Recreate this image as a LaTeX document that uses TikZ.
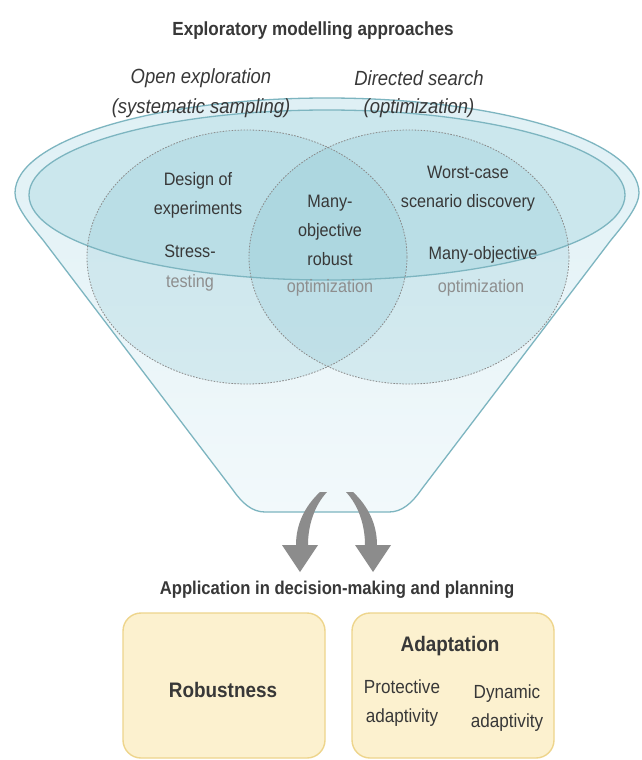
\documentclass[tikz,border=0pt]{standalone}
\usepackage{fontspec}
\setmainfont{Liberation Sans}[FakeStretch=0.9]
\definecolor{rim}{HTML}{7DB5C0}
\definecolor{funneltop}{HTML}{DFF0F5}
\definecolor{funnelbot}{HTML}{F2F9FB}
\definecolor{innerfill}{HTML}{CBE7ED}
\definecolor{circfill}{HTML}{7FC0CF}
\definecolor{circline}{HTML}{8A8A8A}
\definecolor{txt}{HTML}{383838}
\definecolor{faded}{HTML}{8E8E8E}
\definecolor{boxfill}{HTML}{FCF1CF}
\definecolor{boxdraw}{HTML}{EED58C}
\definecolor{arrowgray}{HTML}{8C8C8C}
\begin{document}
\begin{tikzpicture}[x=1pt,y=-1pt,
  rimline/.style={draw=rim, line width=1.3pt},
  venn/.style={draw=circline, line width=0.8pt, dash pattern=on 1.6pt off 1.4pt},
  vtext/.style={inner sep=0pt, text=txt, align=center, font=\fontsize{18}{29}\selectfont},
  ftext/.style={vtext, text=faded},
  itext/.style={inner sep=0pt, text=txt, align=center, font=\fontsize{20.5}{29}\selectfont\itshape},
  btext/.style={inner sep=0pt, text=txt, font=\fontsize{19}{22}\selectfont\bfseries},
  appbox/.style={draw=boxdraw, line width=1.4pt, fill=boxfill, rounded corners=18pt, minimum width=202pt, minimum height=145pt, inner sep=0pt},
  boxtext/.style={inner sep=0pt, text=txt, align=center, font=\fontsize{19}{29}\selectfont},
  garrow/.style={fill=arrowgray}
]
\useasboundingbox (0,0) rectangle (642,760);
\fill[white] (0,0) rectangle (642,760);

% funnel body
\path[top color=funneltop, bottom color=funnelbot, rimline] (15,193) arc[start angle=180, end angle=0, x radius=312pt, y radius=95pt]
  .. controls (639,205) and (626,222) .. (611,240) -- (421,490)
  .. controls (412,503) and (402,512) .. (389,512) -- (265,512)
  .. controls (252,512) and (242,503) .. (233,490) -- (43,240)
  .. controls (28,222) and (15,205) .. (15,193) -- cycle;

% inner ellipse (rim surface)
\fill[innerfill] (327,195) ellipse[x radius=298pt, y radius=85pt];

% Venn circles fill
\fill[circfill, fill opacity=0.22] (247,257) ellipse[x radius=160pt, y radius=127pt];
\fill[circfill, fill opacity=0.22] (409,257) ellipse[x radius=160pt, y radius=127pt];

% inner ellipse outline
\draw[rimline] (327,195) ellipse[x radius=298pt, y radius=85pt];

% Venn circles outline
\draw[venn] (247,257) ellipse[x radius=160pt, y radius=127pt];
\draw[venn] (409,257) ellipse[x radius=160pt, y radius=127pt];

% titles
\node[btext] (title) at (313,31) {Exploratory modelling approaches};
\node[itext] (open) at (201,78) {Open exploration};
\node[itext] (opensub) at (201,108) {(systematic sampling)};
\node[itext] (directed) at (419,78) {Directed search};
\node[itext] (directedsub) at (419,108) {(optimization)};

% Venn texts
\node[vtext] (doe) at (198,195) {Design of\\experiments};
\node[vtext] (stress) at (190,251) {Stress-};
\node[ftext] (testing) at (190,283) {testing};
\node[vtext] (moro) at (330,230) {Many-\\objective\\robust};
\node[ftext] (moroopt) at (330,288) {optimization};
\node[vtext] (worst) at (468,189) {Worst-case\\scenario discovery};
\node[vtext] (mo) at (483,255) {Many-objective};
\node[ftext] (moopt) at (481,288) {optimization};

% arrows
\path[garrow] (320,492) .. controls (305,506) and (296,524) .. (296,545) -- (282,545) -- (300,572)
  -- (318,545) -- (308,545) .. controls (308,526) and (314,506) .. (327,492) -- cycle;
\path[garrow] (353,492) .. controls (368,506) and (377,524) .. (377,545) -- (391,545) -- (373,572)
  -- (355,545) -- (365,545) .. controls (365,526) and (359,506) .. (346,492) -- cycle;

% application
\node[btext, font=\fontsize{18.5}{22}\selectfont\bfseries] (app) at (337,590) {Application in decision-making and planning};
\node[appbox] (robbox) at (224,685.5) {};
\node[appbox] (adbox) at (453,685.5) {};
\node[btext, font=\fontsize{21}{24}\selectfont\bfseries] (rob) at (223,690) {Robustness};
\node[btext, font=\fontsize{21}{24}\selectfont\bfseries] (adapt) at (450,646) {Adaptation};
\node[boxtext] (prot) at (402,703) {Protective\\adaptivity};
\node[boxtext] (dyn) at (507,708) {Dynamic\\adaptivity};
\end{tikzpicture}
\end{document}
